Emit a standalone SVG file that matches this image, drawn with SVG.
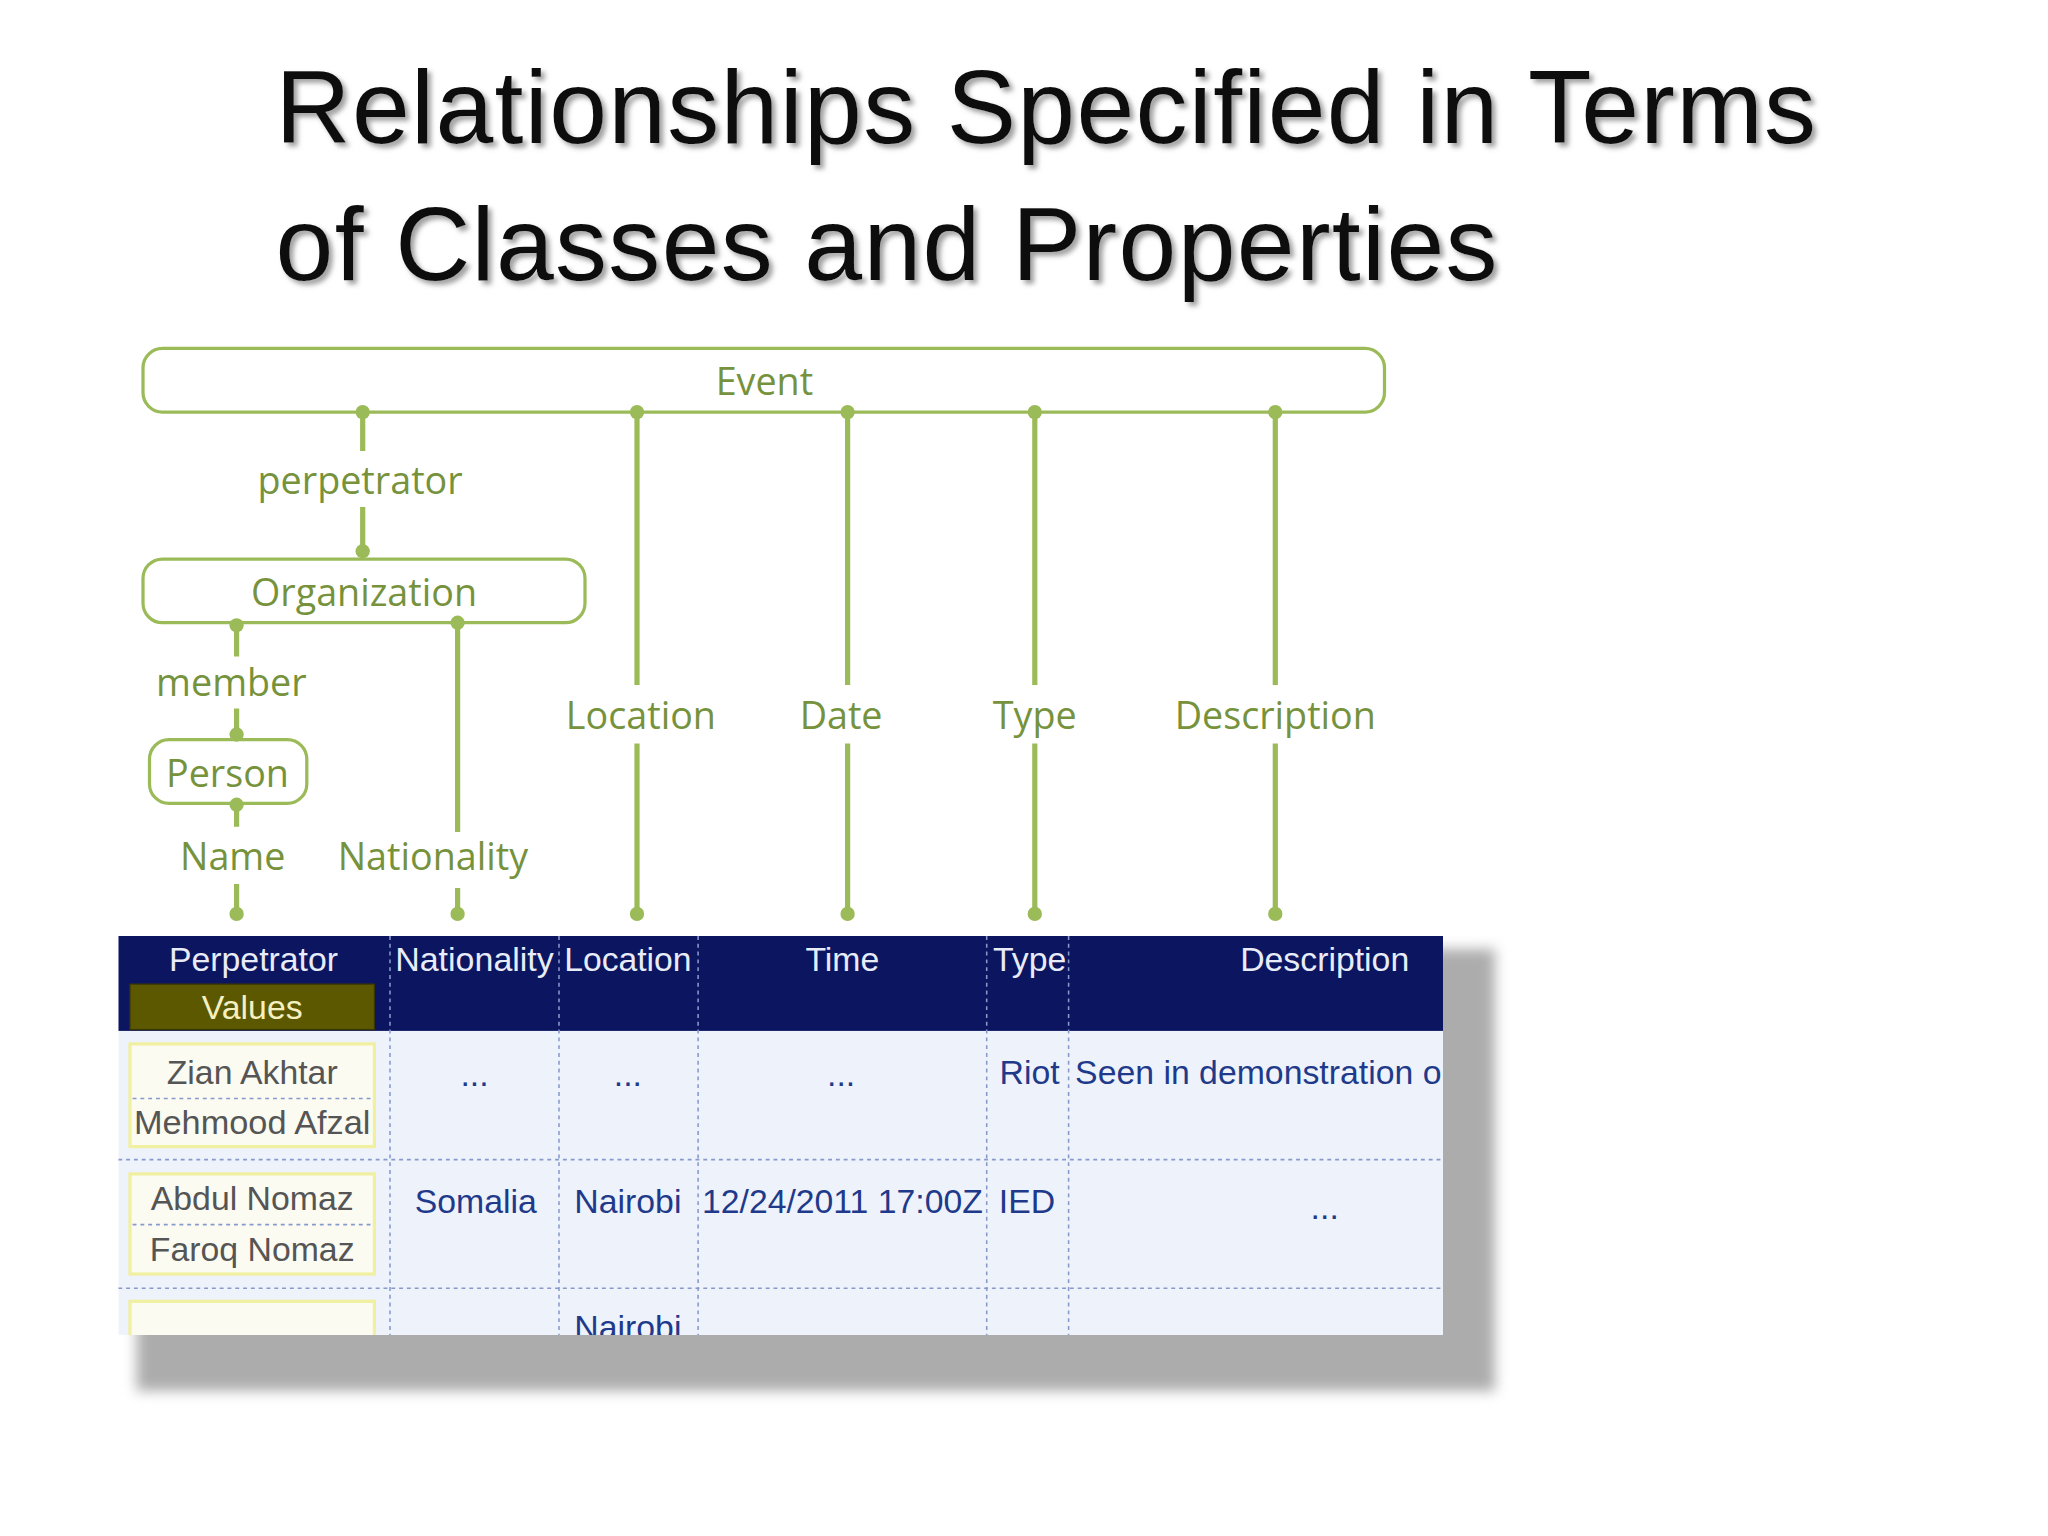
<svg xmlns="http://www.w3.org/2000/svg" width="2048" height="1536" viewBox="0 0 2048 1536">
<defs>
<style>
.t{font-family:"Liberation Sans",Arial,sans-serif;font-size:80px;fill:#111}
.box{fill:#fff;stroke:#9bbb59;stroke-width:2.5}
.lbl{font-family:"Open Sans","Noto Sans",sans-serif;font-size:29px;fill:#76923c;text-anchor:middle}
.ln{stroke:#9bbb59;stroke-width:4;fill:none}
.dot{fill:#9bbb59}
.hd{font-family:"Liberation Sans",Arial,sans-serif;font-size:26px;fill:#e8ecf8;text-anchor:middle}
.cell{font-family:"Liberation Sans",Arial,sans-serif;font-size:26px;fill:#1f3a8a;text-anchor:middle}
.nm{font-family:"Liberation Sans",Arial,sans-serif;font-size:26px;fill:#555;text-anchor:middle}
.dv{stroke:#8899cc;stroke-width:1.2;stroke-dasharray:3 3}
.pb{fill:#fbfbf2;stroke:#f0f0a0;stroke-width:2.5}
</style>
<filter id="sh" x="-20%" y="-20%" width="140%" height="140%"><feGaussianBlur stdDeviation="5"/></filter>
<filter id="ts"><feDropShadow dx="3" dy="3" stdDeviation="2" flood-color="#888" flood-opacity="0.8"/></filter>
<clipPath id="tc"><rect x="91" y="720" width="1019" height="307"/></clipPath>
</defs>
<g transform="scale(1.3)">
<g id="title" filter="url(#ts)">
<text class="t" x="212" y="110" textLength="1185">Relationships Specified in Terms</text>
<text class="t" x="212" y="215" textLength="940">of Classes and Properties</text>
</g>
<g id="event"><rect class="box" x="110" y="268" width="955" height="49" rx="15"/><text class="lbl" x="588" y="304">Event</text></g>
<g id="organization"><rect class="box" x="110" y="430" width="340" height="49" rx="15"/><text class="lbl" x="280" y="466">Organization</text></g>
<g id="person"><rect class="box" x="115" y="569" width="121" height="49" rx="15"/><text class="lbl" x="175" y="605">Person</text></g>
<g id="connectors">
<path class="ln" d="M279 317V347M279 390V424M182 479V505M182 545V565M182 618V636M182 680V703M352 479V640M352 683V703M490 317V527M490 572V703M652 317V527M652 572V703M796 317V527M796 572V703M981 317V527M981 572V703"/>
<g class="dot">
<circle cx="279" cy="317" r="5.5"/><circle cx="279" cy="424" r="5.5"/><circle cx="182" cy="481" r="5.5"/><circle cx="182" cy="565" r="5.5"/><circle cx="182" cy="619" r="5.5"/><circle cx="182" cy="703" r="5.5"/><circle cx="352" cy="479" r="5.5"/><circle cx="352" cy="703" r="5.5"/>
<circle cx="490" cy="317" r="5.5"/><circle cx="490" cy="703" r="5.5"/><circle cx="652" cy="317" r="5.5"/><circle cx="652" cy="703" r="5.5"/><circle cx="796" cy="317" r="5.5"/><circle cx="796" cy="703" r="5.5"/><circle cx="981" cy="317" r="5.5"/><circle cx="981" cy="703" r="5.5"/>
</g>
<text class="lbl" x="277" y="380">perpetrator</text>
<text class="lbl" x="178" y="535">member</text>
<text class="lbl" x="179" y="669">Name</text>
<text class="lbl" x="333" y="669">Nationality</text>
<text class="lbl" x="493" y="561">Location</text>
<text class="lbl" x="647" y="561">Date</text>
<text class="lbl" x="796" y="561">Type</text>
<text class="lbl" x="981" y="561">Description</text>
</g>
<g id="table">
<rect x="105" y="730" width="1045" height="340" fill="#8a8a8a" filter="url(#sh)" opacity="0.7"/>
<g clip-path="url(#tc)">
<rect x="91" y="720" width="1019" height="307" fill="#eef2fb"/>
<rect x="91" y="720" width="1019" height="73" fill="#0b1560"/>
<path class="dv" d="M300 720V1027M430 720V1027M537 720V1027M759 720V1027M822 720V1027M91 892H1110M91 991H1110"/>
<text class="hd" x="195" y="747">Perpetrator</text>
<text class="hd" x="365" y="747" textLength="122" lengthAdjust="spacingAndGlyphs">Nationality</text>
<text class="hd" x="483" y="747" textLength="98" lengthAdjust="spacingAndGlyphs">Location</text>
<text class="hd" x="648" y="747">Time</text>
<text class="hd" x="792" y="747">Type</text>
<text class="hd" x="1019" y="747">Description</text>
<rect x="100" y="757" width="188" height="35" fill="#5c5800" stroke="#3a3800"/>
<text class="hd" x="194" y="784" style="fill:#f4f0c0">Values</text>
<rect class="pb" x="100" y="803" width="188" height="79"/>
<path class="dv" d="M102 845H286"/>
<text class="nm" x="194" y="834">Zian Akhtar</text>
<text class="nm" x="194" y="872" textLength="182" lengthAdjust="spacingAndGlyphs">Mehmood Afzal</text>
<rect class="pb" x="100" y="903" width="188" height="77"/>
<path class="dv" d="M102 942H286"/>
<text class="nm" x="194" y="931">Abdul Nomaz</text>
<text class="nm" x="194" y="970">Faroq Nomaz</text>
<rect class="pb" x="100" y="1001" width="188" height="60"/>
<text class="cell" x="365" y="835">...</text>
<text class="cell" x="483" y="835">...</text>
<text class="cell" x="647" y="835">...</text>
<text class="cell" x="792" y="834">Riot</text>
<text class="cell" x="827" y="834" style="text-anchor:start">Seen in demonstration on</text>
<text class="cell" x="366" y="933">Somalia</text>
<text class="cell" x="483" y="933">Nairobi</text>
<text class="cell" x="648" y="933" textLength="216" lengthAdjust="spacingAndGlyphs">12/24/2011 17:00Z</text>
<text class="cell" x="790" y="933">IED</text>
<text class="cell" x="1019" y="938">...</text>
<text class="cell" x="483" y="1030">Nairobi</text>
</g>
</g>
</g>
</svg>
